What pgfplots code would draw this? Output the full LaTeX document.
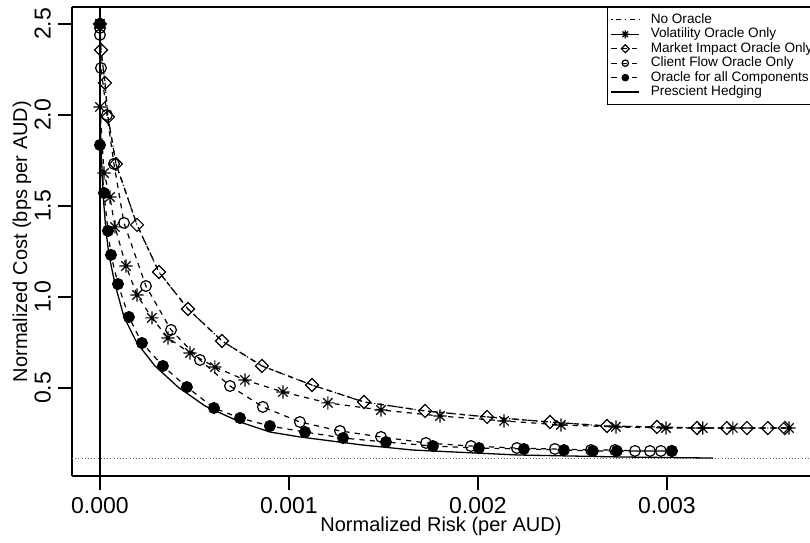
\documentclass[border=0pt]{standalone}
\usepackage{fontspec}
\setmainfont{Liberation Sans}
\usepackage{pgfplots}
\pgfplotsset{compat=1.18}

% R style pch 8: plus and cross on top of each other
\pgfdeclareplotmark{rstar}{%
  \pgfpathmoveto{\pgfpoint{-\pgfplotmarksize}{0pt}}%
  \pgfpathlineto{\pgfpoint{\pgfplotmarksize}{0pt}}%
  \pgfpathmoveto{\pgfpoint{0pt}{-\pgfplotmarksize}}%
  \pgfpathlineto{\pgfpoint{0pt}{\pgfplotmarksize}}%
  \pgfpathmoveto{\pgfpoint{-0.707\pgfplotmarksize}{-0.707\pgfplotmarksize}}%
  \pgfpathlineto{\pgfpoint{0.707\pgfplotmarksize}{0.707\pgfplotmarksize}}%
  \pgfpathmoveto{\pgfpoint{-0.707\pgfplotmarksize}{0.707\pgfplotmarksize}}%
  \pgfpathlineto{\pgfpoint{0.707\pgfplotmarksize}{-0.707\pgfplotmarksize}}%
  \pgfusepathqstroke}

\tikzset{
  rdash/.style={dash pattern=on 2.6pt off 2.6pt},
  rdashdot/.style={dash pattern=on 0.6pt off 1.8pt on 2.6pt off 1.8pt},
}

\begin{document}
\begin{tikzpicture}
\begin{axis}[
    scale only axis, width=369pt, height=234.5pt,
    xmin=-0.148, xmax=3.757, ymin=0.0165, ymax=2.593,
    axis x line=box, axis y line=left,
    axis line style={-, line width=0.7pt},
    xtick pos=bottom, tick align=outside,
    major tick length=7pt,
    tick style={black, line width=0.7pt},
    xtick={0,1,2,3}, xticklabels={0.000,0.001,0.002,0.003},
    ytick={0.5,1,1.5,2,2.5}, yticklabels={0.5,1.0,1.5,2.0,2.5},
    /pgf/number format/assume math mode=true,
    tick label style={font=\fontsize{11.5}{13}\selectfont},
    yticklabel style={rotate=90, anchor=south},
    label style={font=\fontsize{11.5}{13}\selectfont},
    every axis x label/.style={at={(axis description cs:0.5,0)}, yshift=-25pt, anchor=center},
    every axis y label/.style={at={(axis description cs:0,0.5)}, xshift=-25pt, rotate=90, anchor=center},
    xlabel={Normalized Risk (per AUD)},
    ylabel={Normalized Cost (bps per AUD)},
    legend image code/.code={\draw[mark repeat=2,mark phase=2,#1] plot coordinates {(0pt,0pt) (7pt,0pt) (14pt,0pt)};},
    legend style={at={(rel axis cs:0.725,1)}, anchor=north west,
        draw=black, line width=0.6pt, inner xsep=1.5pt, inner ysep=2.5pt,
        font=\fontsize{6.8}{7}\selectfont,
        nodes={inner sep=0.4pt, anchor=west},
        /tikz/every odd column/.append style={column sep=5pt}},
    legend cell align=left,
]
% reference lines
\addplot[black, line width=0.6pt, forget plot] coordinates {(0,0.0165)(0,2.593)};
\addplot[black!60, line width=0.4pt, dash pattern=on 0.4pt off 1.2pt, forget plot]
  coordinates {(-0.148,0.115)(3.757,0.115)};

% No Oracle
\addplot[black, line width=0.6pt, rdashdot] coordinates {
(0,2.500)(0.0053,2.357)(0.0265,2.176)(0.0423,1.989)(0.0847,1.731)(0.196,1.396)
(0.312,1.137)(0.466,0.934)(0.646,0.758)(0.857,0.621)(1.122,0.516)(1.397,0.423)
(1.720,0.374)(2.048,0.341)(2.381,0.313)(2.683,0.291)(2.947,0.286)(3.159,0.280)
(3.317,0.280)(3.423,0.280)(3.534,0.280)(3.624,0.280)};
\addlegendentry{No Oracle}

% Volatility Oracle Only
\addplot[black, line width=0.6pt, rdash, mark=rstar, mark size=3.3pt, mark options={solid},
  legend image post style={solid, mark size=2pt}] coordinates {
(0,2.500)(0,2.044)(0.0212,1.681)(0.0529,1.549)(0.0794,1.385)(0.138,1.170)
(0.196,1.011)(0.275,0.885)(0.360,0.775)(0.476,0.692)(0.608,0.615)(0.767,0.544)
(0.968,0.478)(1.206,0.418)(1.487,0.379)(1.799,0.346)(2.138,0.319)(2.439,0.297)
(2.730,0.286)(2.995,0.280)(3.190,0.280)(3.349,0.280)(3.646,0.280)};
\addlegendentry{Volatility Oracle Only}

% Market Impact Oracle Only
\addplot[black, line width=0.6pt, rdash, mark=square, mark size=2.3pt, mark options={solid, rotate=45},
  legend image post style={mark size=1.4pt}] coordinates {
(0,2.500)(0.0053,2.357)(0.0265,2.176)(0.0423,1.989)(0.0847,1.731)(0.196,1.396)
(0.312,1.137)(0.466,0.934)(0.646,0.758)(0.857,0.621)(1.122,0.516)(1.397,0.423)
(1.720,0.374)(2.048,0.341)(2.381,0.313)(2.683,0.291)(2.947,0.286)(3.159,0.280)
(3.317,0.280)(3.423,0.280)(3.534,0.280)(3.624,0.280)};
\addlegendentry{Market Impact Oracle Only}

% Client Flow Oracle Only
\addplot[black, line width=0.6pt, rdash, mark=o, mark size=2.7pt, mark options={solid},
  legend image post style={mark size=1.6pt}] coordinates {
(0,2.478)(0,2.440)(0.0053,2.258)(0.037,2.000)(0.0741,1.731)(0.127,1.407)
(0.243,1.060)(0.376,0.819)(0.529,0.654)(0.688,0.511)(0.862,0.396)(1.058,0.313)
(1.270,0.264)(1.487,0.231)(1.725,0.198)(1.963,0.181)(2.206,0.170)(2.407,0.165)
(2.598,0.159)(2.725,0.159)(2.831,0.154)(2.910,0.154)(2.968,0.154)(3.026,0.154)};
\addlegendentry{Client Flow Oracle Only}

% Oracle for all Components
\addplot[black, line width=0.6pt, rdash, mark=*, mark size=2.7pt, mark options={solid, fill=black},
  legend image post style={mark size=1.6pt}] coordinates {
(0,2.500)(0,1.835)(0.0212,1.571)(0.0423,1.363)(0.0582,1.231)(0.0952,1.071)
(0.153,0.890)(0.222,0.747)(0.333,0.621)(0.460,0.505)(0.603,0.390)(0.741,0.335)
(0.899,0.291)(1.085,0.258)(1.286,0.225)(1.513,0.203)(1.762,0.181)(2.005,0.170)
(2.243,0.165)(2.455,0.159)(2.608,0.154)(2.735,0.154)(3.026,0.154)};
\addlegendentry{Oracle for all Components}

% Prescient Hedging
\addplot[black, line width=0.65pt, solid] coordinates {
(0,2.500)(0,2.082)(0.0053,1.835)(0.0159,1.571)(0.0317,1.363)(0.0476,1.231)
(0.0794,1.071)(0.127,0.890)(0.196,0.747)(0.291,0.621)(0.413,0.505)(0.556,0.401)
(0.741,0.313)(0.899,0.258)(1.058,0.231)(1.386,0.187)(1.656,0.159)(2.206,0.132)
(2.751,0.121)(3.243,0.115)};
\addlegendentry{Prescient Hedging}
\end{axis}
\pgfresetboundingbox
\path[use as bounding box] ([xshift=-36pt,yshift=-33.5pt]current axis.south west)
  rectangle ([yshift=3.5pt]current axis.north east);
\end{tikzpicture}
\end{document}
